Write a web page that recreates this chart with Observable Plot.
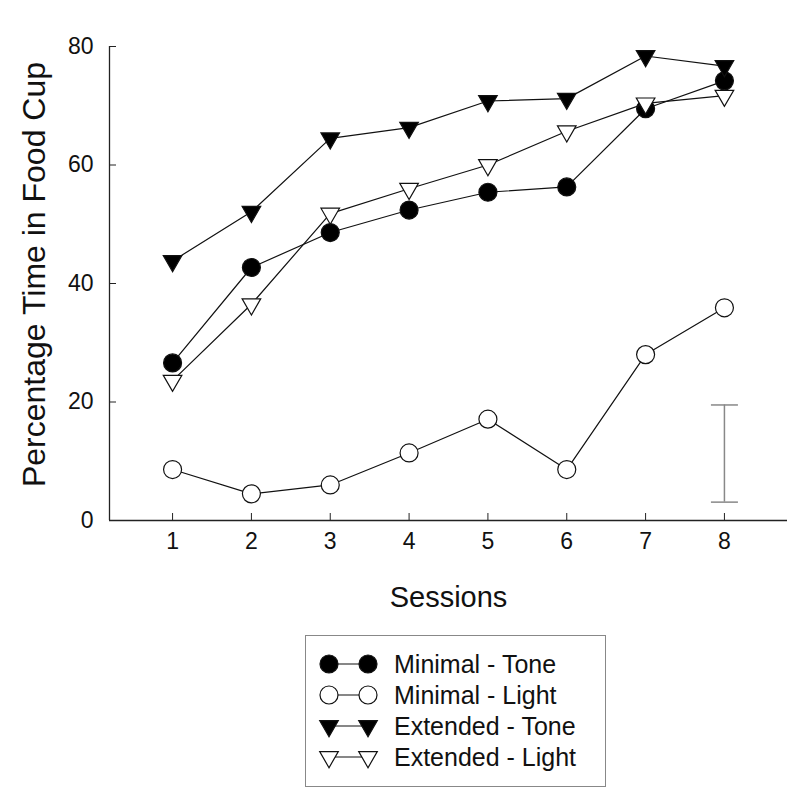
<!DOCTYPE html>
<html>
<head>
<meta charset="utf-8">
<script src="https://cdn.jsdelivr.net/npm/d3@7"></script>
<script src="https://cdn.jsdelivr.net/npm/@observablehq/plot@0.6"></script>
<style>
  html, body { margin: 0; padding: 0; background: #fff; }
  body { width: 800px; height: 804px; position: relative; font-family: "Liberation Sans", Arial, sans-serif; }
  #legend { position: absolute; left: 305px; top: 635px; }
</style>
</head>
<body>
<div id="chart"></div>
<div id="legend"></div>
<script>
const sessions = [1, 2, 3, 4, 5, 6, 7, 8];
const minimalTone   = [26.6, 42.7, 48.6, 52.4, 55.4, 56.3, 69.5, 74.2];
const minimalLight  = [8.6, 4.5, 6.0, 11.4, 17.1, 8.6, 28.0, 35.9];
const extendedTone  = [43.8, 52.1, 64.5, 66.3, 70.8, 71.2, 78.4, 76.7];
const extendedLight = [23.6, 36.5, 51.8, 56.0, 60.0, 65.7, 70.4, 71.7];
const yTicks = [0, 20, 40, 60, 80];
const errorBar = [{session: 8, low: 3.1, high: 19.5}];

const seriesDefs = [
  {name: "Minimal - Tone",   values: minimalTone,   symbol: "circle",   fill: "black", r: 9,   rotate: 0},
  {name: "Minimal - Light",  values: minimalLight,  symbol: "circle",   fill: "white", r: 9,   rotate: 0},
  {name: "Extended - Tone",  values: extendedTone,  symbol: "triangle", fill: "black", r: 6.9, rotate: 180},
  {name: "Extended - Light", values: extendedLight, symbol: "triangle", fill: "white", r: 6.9, rotate: 180}
];

const capSymbol = {draw(ctx) { ctx.moveTo(-13.5, 0); ctx.lineTo(13.5, 0); }};

const marks = [
  Plot.ruleY([0], {stroke: "#222", strokeWidth: 1.3}),
  Plot.ruleX([0.2], {stroke: "#222", strokeWidth: 1.3}),
  Plot.axisX(sessions, {tickSize: -7, tickFormat: () => "", stroke: "#222", label: null}),
  Plot.axisX(sessions, {tickSize: 0, tickPadding: 12, fontSize: 23, label: null, fill: "#111"}),
  Plot.axisY(yTicks, {tickSize: -7, tickFormat: () => "", stroke: "#222", label: null}),
  Plot.axisY(yTicks, {tickSize: 0, tickPadding: 16, fontSize: 23, label: null, fill: "#111"}),
  Plot.ruleX(errorBar, {x: "session", y1: "low", y2: "high", stroke: "#888", strokeWidth: 1.5}),
  Plot.dot(errorBar.flatMap(d => [{session: d.session, v: d.low}, {session: d.session, v: d.high}]),
    {x: "session", y: "v", symbol: capSymbol, r: 5, stroke: "#888", strokeWidth: 1.5, fill: "none"}),
];

for (const s of seriesDefs) {
  const data = sessions.map((x, i) => ({x, y: s.values[i]}));
  marks.push(Plot.line(data, {x: "x", y: "y", stroke: "#111", strokeWidth: 1.2}));
  marks.push(Plot.dot(data, {x: "x", y: "y", symbol: s.symbol, r: s.r, rotate: s.rotate, fill: s.fill, stroke: "#111", strokeWidth: 1.2}));
}

marks.push(Plot.text(["Sessions"], {frameAnchor: "bottom", lineAnchor: "middle", textAnchor: "middle", dy: 77, fontSize: 29, fill: "#111"}));
marks.push(Plot.text(["Percentage Time in Food Cup"], {frameAnchor: "left", textAnchor: "middle", lineAnchor: "middle", rotate: -90, dx: -75, dy: -9, fontSize: 32, fill: "#111"}));

const chart = Plot.plot({
  width: 800,
  height: 615,
  marginTop: 46,
  marginBottom: 95,
  marginLeft: 109,
  marginRight: 13,
  style: {fontFamily: "'Liberation Sans', Arial, sans-serif", background: "white", overflow: "visible"},
  x: {domain: [0.2, 8.8]},
  y: {domain: [0, 80]},
  marks
});
document.getElementById("chart").appendChild(chart);

// Legend
const lw = 301, lh = 152;
const legend = d3.select("#legend").append("svg").attr("width", lw).attr("height", lh);
legend.append("rect").attr("x", 0.5).attr("y", 0.5).attr("width", lw - 1).attr("height", lh - 1)
  .attr("fill", "white").attr("stroke", "#888").attr("stroke-width", 1);
seriesDefs.forEach((s, i) => {
  const cy = 29 + i * 31;
  const g = legend.append("g");
  g.append("line").attr("x1", 24).attr("x2", 63).attr("y1", cy).attr("y2", cy).attr("stroke", "#111").attr("stroke-width", 1.2);
  const sym = d3.symbol(s.symbol === "circle" ? d3.symbolCircle : d3.symbolTriangle, Math.PI * s.r * s.r);
  [24, 63].forEach(x => {
    g.append("path").attr("d", sym()).attr("transform", `translate(${x},${cy}) rotate(${s.rotate})`)
      .attr("fill", s.fill).attr("stroke", "#111").attr("stroke-width", 1.2);
  });
  g.append("text").attr("x", 89).attr("y", cy).attr("dy", "0.35em").attr("font-size", 25)
    .attr("fill", "#111").attr("font-family", "'Liberation Sans', Arial, sans-serif").text(s.name);
});
</script>
</body>
</html>
